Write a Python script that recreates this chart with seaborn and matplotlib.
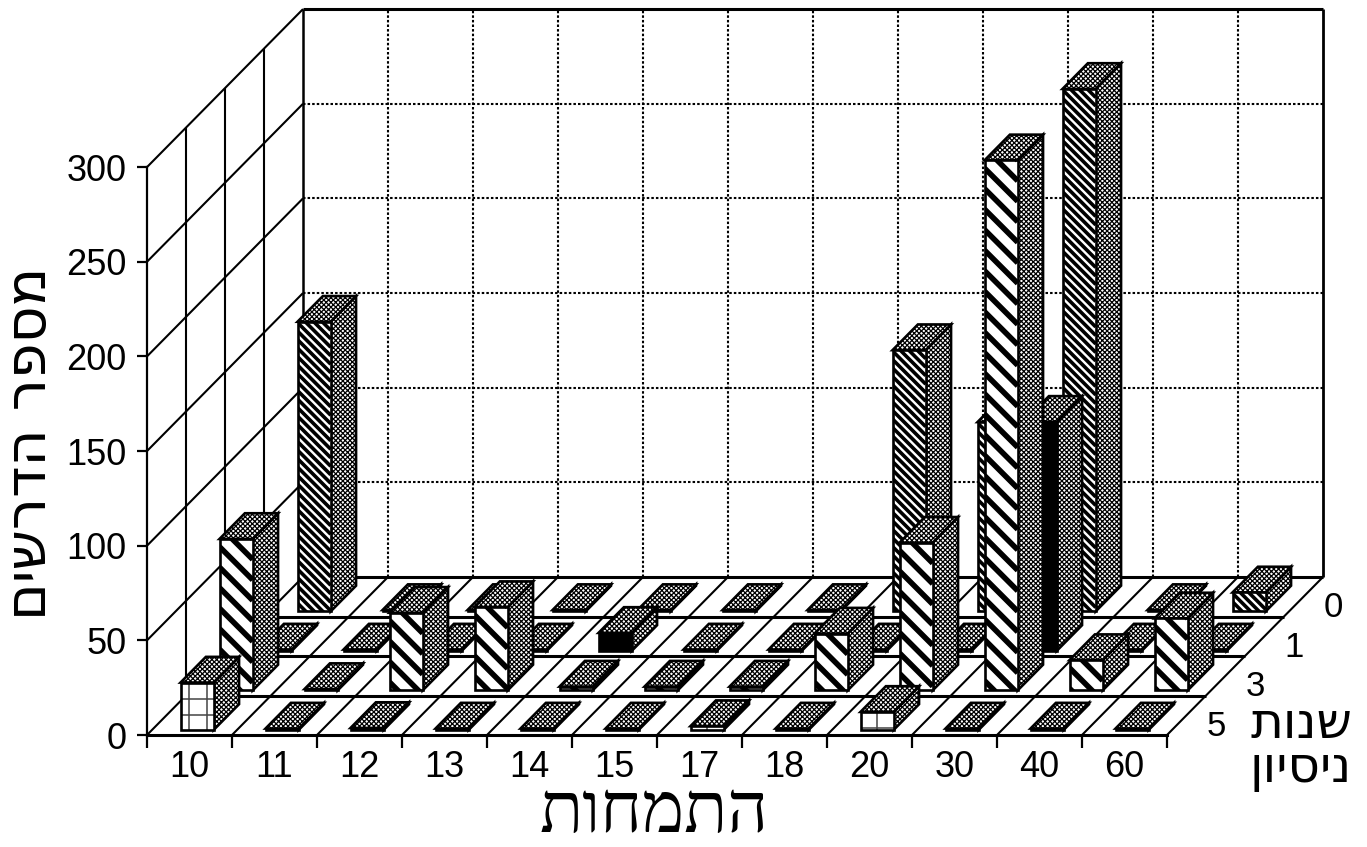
import numpy as np
import pandas as pd
import matplotlib
matplotlib.use("Agg")
import matplotlib.pyplot as plt
from matplotlib.collections import LineCollection
from matplotlib.patches import Polygon
import seaborn as sns

# ---- data ----
categories = ["10", "11", "12", "13", "14", "15", "17", "18", "20", "30", "40", "60"]
experience = ["5", "3", "1", "0"]
values_5 = [25, 0.7, 1.0, 0.7, 0.7, 0.7, 2, 0.7, 9.5, 0.7, 0.7, 0.7]
values_3 = [80, 0.7, 41, 44, 2, 2, 2, 30, 78, 280, 16, 38]
values_1 = [0.7, 0.7, 0.7, 0.7, 9.5, 0.7, 0.7, 0.7, 0.7, 121, 0.7, 0.7]
values_0 = [153, 0.7, 0.7, 0.7, 0.7, 0.7, 0.7, 138, 100, 276, 0.7, 10]
y_ticks = [0, 50, 100, 150, 200, 250, 300]
x_title = "התמחות"
y_title = "מספר הדרשים"
depth_title_1 = "שנות"
depth_title_2 = "ניסיון"

df = pd.DataFrame({"5": values_5, "3": values_3, "1": values_1, "0": values_0}, index=categories)

# ---- geometry of the oblique view (pixels of the 1367x847 figure) ----
W, H = 1367, 847
X0, Y0 = 147.0, 735.0       # origin: front left floor corner
PX_CAT = 85.0               # pixels per category
PX_VAL = 1.893              # pixels per unit of value
DX = 39.0 / PX_CAT          # depth shift per row, in category units
DY = 39.5 / PX_VAL          # depth shift per row, in value units
U0, UW = 0.335, 0.39        # bar placement inside a cell
D0, D1 = 0.13, 0.78
FS = 26

sns.set_theme(style="white", font="Liberation Sans", rc={
    "hatch.linewidth": 0.9, "hatch.color": "black", "text.color": "black",
    "xtick.color": "black", "ytick.color": "black", "axes.edgecolor": "black",
})
HEB_SERIF = ["Liberation Serif", "DejaVu Sans"]
HEB_SANS = ["DejaVu Sans"]

fig = plt.figure(figsize=(W / 100, H / 100), dpi=100, facecolor="white")
ax = fig.add_axes([0, 0, 1, 1], facecolor="white")
ax.set_xlim(-X0 / PX_CAT, (W - X0) / PX_CAT)
ax.set_ylim((Y0 - H) / PX_VAL, Y0 / PX_VAL)


def proj(i, r, v):
    return i + r * DX, v + r * DY


def seg(a, b, **kw):
    ax.plot([a[0], b[0]], [a[1], b[1]], color="black", solid_capstyle="butt", **kw)


# ---- walls and floor ----
n_cat, n_row = len(categories), len(experience)
for v in y_ticks[1:]:
    seg(proj(0, 0, v), proj(0, n_row, v), lw=1.5, zorder=1)
for r in range(1, n_row):
    seg(proj(0, r, 0), proj(0, r, 300), lw=1.5, zorder=1)
seg(proj(0, n_row, 0), proj(0, n_row, 300), lw=1.8, zorder=1)
for v in y_ticks[1:-1]:
    seg(proj(0, n_row, v), proj(n_cat, n_row, v), lw=1.5, ls=(0, (1.2, 1.0)), zorder=1)
for i in range(1, n_cat):
    seg(proj(i, n_row, 0), proj(i, n_row, 300), lw=1.5, ls=(0, (1.2, 1.0)), zorder=1)
seg(proj(0, n_row, 300), proj(n_cat, n_row, 300), lw=2.2, zorder=1)
seg(proj(n_cat, n_row, 0), proj(n_cat, n_row, 300), lw=2.0, zorder=1)
for i in range(n_cat + 1):
    seg(proj(i, 0, 0), proj(i, n_row, 0), lw=1.5, zorder=2)
for r in range(1, n_row + 1):
    seg(proj(0, r, 0), proj(n_cat, r, 0), lw=2.2, zorder=2)


# ---- face patterns ----
def stripes(patch, left, right, top, bottom, period, lw, z):
    """45 degree stripes running down to the right, clipped to a face."""
    w_px = (right - left) * PX_CAT
    h_px = (top - bottom) * PX_VAL
    segs = []
    for off in np.arange(-w_px, h_px + period, period):
        segs.append([(left, top - off / PX_VAL), (right, top - (off + w_px) / PX_VAL)])
    lc = LineCollection(segs, colors="black", linewidths=lw, zorder=z)
    ax.add_collection(lc)
    lc.set_clip_path(patch)


def grid_lines(patch, left, right, top, bottom, z):
    h_px = (top - bottom) * PX_VAL
    segs = []
    fracs = (0.25, 0.8) if h_px > 30 else (0.5,)
    for f in fracs:
        x = left + f * (right - left)
        segs.append([(x, bottom), (x, top)])
    for off in np.arange(16, h_px, 16):
        y = top - off / PX_VAL
        segs.append([(left, y), (right, y)])
    lc = LineCollection(segs, colors="#444444", linewidths=1.1, zorder=z)
    ax.add_collection(lc)
    lc.set_clip_path(patch)


def draw_bar(i, r, value, z):
    i0, i1 = i + U0, i + U0 + UW
    r0, r1 = r + D0, r + D1
    top = [proj(i0, r0, value), proj(i1, r0, value), proj(i1, r1, value), proj(i0, r1, value)]
    side = [proj(i1, r0, 0), proj(i1, r1, 0), proj(i1, r1, value), proj(i1, r0, value)]
    front = [proj(i0, r0, 0), proj(i1, r0, 0), proj(i1, r0, value), proj(i0, r0, value)]
    for pts in (side, top):
        ax.add_patch(Polygon(pts, closed=True, facecolor="white", edgecolor="black",
                             hatch="xxxxxxx", lw=1.9, zorder=z, joinstyle="miter"))
    name = experience[r]
    face = "black" if name == "1" else "white"
    patch = Polygon(front, closed=True, facecolor=face, edgecolor="none", zorder=z + 0.1)
    ax.add_patch(patch)
    left, right = front[0][0], front[1][0]
    bottom, topv = front[0][1], front[2][1]
    if value > 1.5:
        if name == "3":
            stripes(patch, left, right, topv, bottom, 20.5, 4.0, z + 0.2)
        elif name == "0":
            stripes(patch, left, right, topv, bottom, 8.5, 2.6, z + 0.2)
        elif name == "5":
            grid_lines(patch, left, right, topv, bottom, z + 0.2)
    ax.add_patch(Polygon(front, closed=True, facecolor="none", edgecolor="black",
                         lw=1.9, zorder=z + 0.3, joinstyle="miter"))


z = 3.0
for r in range(n_row - 1, -1, -1):
    for i, value in enumerate(df[experience[r]].to_numpy()):
        draw_bar(i, r, float(value), z)
        z += 0.5

# ---- real axes: spines and ticks through the data transform ----
sns.despine(ax=ax, top=True, right=True)
ax.spines["left"].set_position(("data", 0))
ax.spines["left"].set_bounds(0, 300)
ax.spines["left"].set_linewidth(1.6)
ax.spines["bottom"].set_position(("data", 0))
ax.spines["bottom"].set_bounds(0, n_cat)
ax.spines["bottom"].set_linewidth(2.2)
for s in ("left", "bottom"):
    ax.spines[s].set_zorder(2.5)
ax.set_yticks(y_ticks)
ax.set_yticklabels([str(t) for t in y_ticks], fontsize=FS)
ax.tick_params(axis="y", which="major", direction="out", length=7.5, width=1.6, pad=7, left=True)
ax.set_xticks(np.arange(n_cat + 1))
ax.set_xticklabels([])
ax.set_xticks(np.arange(n_cat) + 0.5, minor=True)
ax.set_xticklabels(categories, minor=True, fontsize=FS)
ax.tick_params(axis="x", which="major", direction="out", length=9, width=1.6, bottom=True)
ax.tick_params(axis="x", which="minor", length=0, pad=11, bottom=True)


# ---- text ----
def px_pos(px, py):
    return (px - X0) / PX_CAT, (Y0 - py) / PX_VAL


for r, name in enumerate(experience):
    x, y = proj(n_cat, r + 0.5, 0)
    ax.text(x + 30 / PX_CAT, y - 11 / PX_VAL, name, fontsize=FS - 1, ha="center", va="center")

ax.text(*px_pos(654, 832), x_title[::-1], family=HEB_SERIF, fontsize=51,
        ha="center", va="baseline")
ax.text(*px_pos(58, 443), y_title[::-1], family=HEB_SANS, fontsize=41, rotation=90,
        ha="right", va="center")
ax.text(*px_pos(1352, 738), depth_title_1[::-1], family=HEB_SANS, fontsize=36,
        ha="right", va="baseline")
ax.text(*px_pos(1352, 782), depth_title_2[::-1], family=HEB_SANS, fontsize=36,
        ha="right", va="baseline")

fig.savefig("out.png", dpi=100, facecolor="white")
